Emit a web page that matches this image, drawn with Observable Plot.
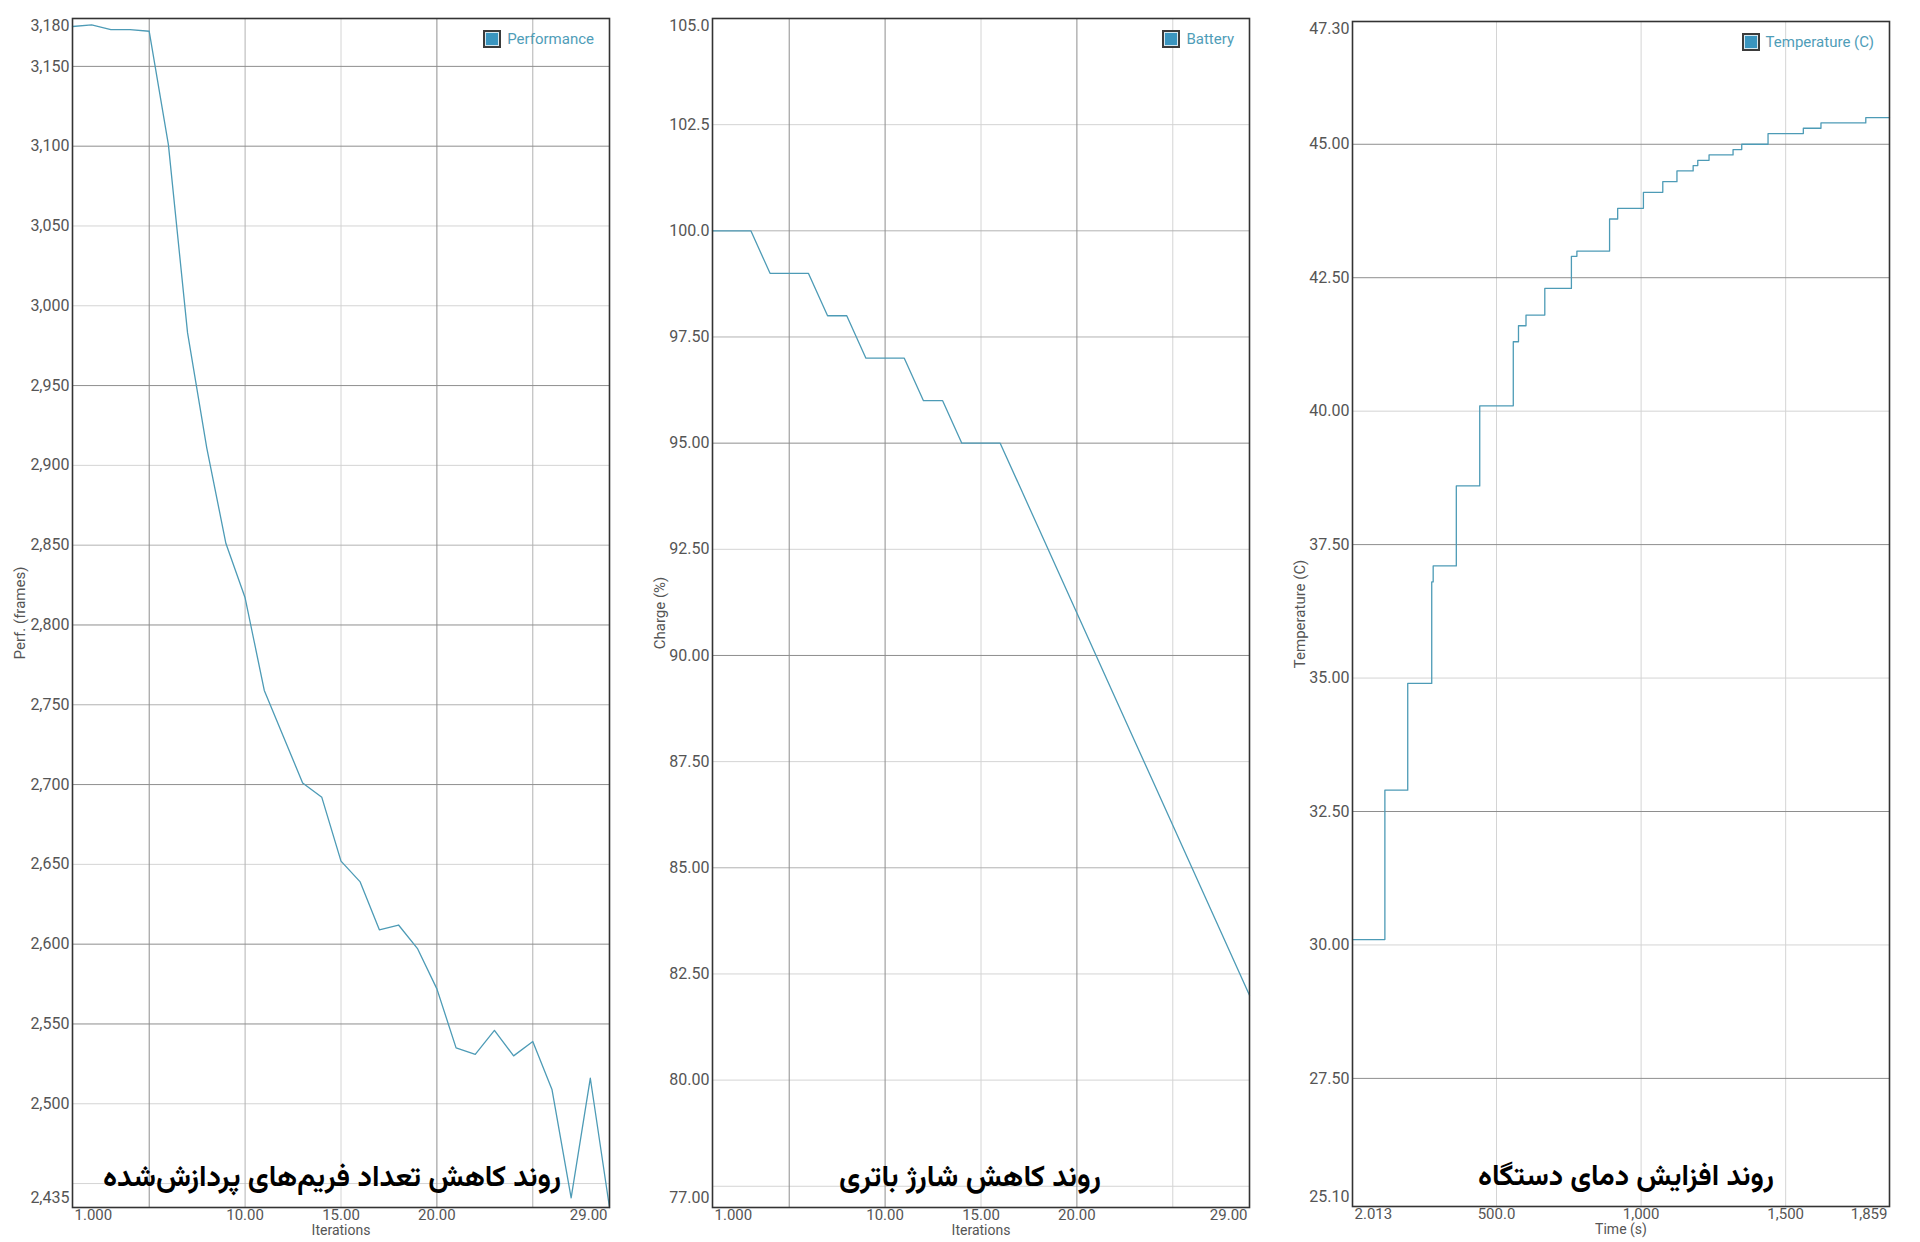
<!DOCTYPE html>
<html><head><meta charset="utf-8">
<script src="https://cdn.jsdelivr.net/npm/d3@7"></script>
<script src="https://cdn.jsdelivr.net/npm/@observablehq/plot@0.6"></script>
<style>
body{margin:0;background:#fff;}
#wrap{position:relative;width:1920px;height:1242px;display:flex;background:#fff;}
.panel{position:relative;width:640px;height:1242px;}
.legend{position:absolute;right:46px;display:flex;align-items:center;font:15px Roboto,sans-serif;color:#4f9db8;}
.sw{width:14px;height:14px;background:#3a95bf;border:2px solid #3b3b3b;margin-right:6px;box-shadow:inset 0 0 0 1px #d5e8f1;}
</style></head>
<body><div id="wrap"></div>
<script>
// ---------- data ----------
const iterations = [1,2,3,4,5,6,7,8,9,10,11,12,13,14,15,16,17,18,19,20,21,22,23,24,25,26,27,28,29];
const performance = [3175,3176,3173,3173,3172,3101,2983,2911,2851,2817,2759,2730,2701,2692,2652,2639,2609,2612,2597,2572,2535,2531,2546,2530,2539,2509,2441,2516,2435];
const battery = [100,100,100,99,99,99,98,98,97,97,97,96,96,95,95,95,94,93,92,91,90,89,88,87,86,85,84,83,82];
const timeS = [2.013,114,193,276,281,361,442,558,576,602,667,759,778,891,919,1008,1075,1124,1180,1196,1235,1318,1348,1439,1561,1622,1777,1859];
const temperature = [30.1,32.9,34.9,36.8,37.1,38.6,40.1,41.3,41.6,41.8,42.3,42.9,43.0,43.6,43.8,44.1,44.3,44.5,44.6,44.7,44.8,44.9,45.0,45.2,45.3,45.4,45.5,45.5];

const perfXTicks = [1,10,15,20,29];
const perfXGrid = [5,10,15,20,25];
const perfYTicks = [3180,3150,3100,3050,3000,2950,2900,2850,2800,2750,2700,2650,2600,2550,2500,2435];
const perfYGrid = [3150,3100,3050,3000,2950,2900,2850,2800,2750,2700,2650,2600,2550,2500,2450];

const battXTicks = [1,10,15,20,29];
const battXGrid = [5,10,15,20,25];
const battYTicks = [105,102.5,100,97.5,95,92.5,90,87.5,85,82.5,80,77];
const battYGrid = [102.5,100,97.5,95,92.5,90,87.5,85,82.5,80,77.5];

const tempXTicks = [2.013,500,1000,1500,1859];
const tempXGrid = [500,1000,1500];
const tempYTicks = [47.3,45,42.5,40,37.5,35,32.5,30,27.5,25.1];
const tempYGrid = [45,42.5,40,37.5,35,32.5,30,27.5];

const titles = ["روند کاهش تعداد فریم‌های پردازش‌شده","روند کاهش شارژ باتری","روند افزایش دمای دستگاه"];
const seriesNames = ["Performance","Battery","Temperature (C)"];
const xLabels = ["Iterations","Iterations","Time (s)"];
const yLabels = ["Perf. (frames)","Charge (%)","Temperature (C)"];

// ---------- drawing ----------
const fmt = d3.format(",.4r");
const TONE = {dark:"#8e8e8e", mid:"#b2b2b2", light:"#d4d4d4"};

function makePanel(o){
  const data = o.xs.map((x,i)=>({x, y:o.ys[i]}));
  const tone = (v, map) => map.dark.includes(v) ? "dark" : map.mid.includes(v) ? "mid" : "light";
  const gridMarks = [];
  for (const t of ["light","mid","dark"]) {
    gridMarks.push(Plot.ruleX(o.xGrid.filter(v=>tone(v,o.xTone)===t), {x:d=>d, stroke:TONE[t], strokeWidth:1}));
    gridMarks.push(Plot.ruleY(o.yGrid.filter(v=>tone(v,o.yTone)===t), {y:d=>d, stroke:TONE[t], strokeWidth:1}));
  }
  const tk = {fontSize:15, fill:"#555", text:d=>fmt(d)};
  const xMid = o.xTicks.slice(1,-1), yMid = o.yTicks.slice(1,-1);
  return Plot.plot({
    width:640, height:1242,
    marginLeft:72, marginRight:31, marginTop:o.mt, marginBottom:1242-o.mt-o.ph,
    x:{domain:o.xDomain, axis:null},
    y:{domain:o.yDomain, axis:null},
    style:{fontFamily:"Roboto, sans-serif", background:"#fff", overflow:"visible"},
    marks:[
      ...gridMarks,
      Plot.line(data, {x:"x", y:"y", stroke:"#4d9bb6", strokeWidth:1.3, curve:o.curve}),
      Plot.frame({stroke:"#333", strokeWidth:1.6}),
      Plot.text(xMid, {x:d=>d, frameAnchor:"bottom", lineAnchor:"top", dy:2, ...tk}),
      Plot.text([o.xTicks[0]], {x:d=>d, frameAnchor:"bottom", lineAnchor:"top", textAnchor:"start", dx:2, dy:2, ...tk}),
      Plot.text([o.xTicks[o.xTicks.length-1]], {x:d=>d, frameAnchor:"bottom", lineAnchor:"top", textAnchor:"end", dx:-2, dy:2, ...tk}),
      Plot.text(yMid, {y:d=>d, frameAnchor:"left", textAnchor:"end", dx:-3, ...tk, fontSize:16}),
      Plot.text([o.yTicks[0]], {y:d=>d, frameAnchor:"left", textAnchor:"end", dx:-3, dy:7, ...tk, fontSize:16}),
      Plot.text([o.yTicks[o.yTicks.length-1]], {y:d=>d, frameAnchor:"left", textAnchor:"end", dx:-3, dy:-10, ...tk, fontSize:16}),
      Plot.text([o.xLabel], {frameAnchor:"bottom", textAnchor:"middle", lineAnchor:"top", dy:18, fontSize:14, fill:"#555"}),
      Plot.text([o.yLabel], {frameAnchor:"left", textAnchor:"middle", rotate:-90, dx:-52, fontSize:15, fill:"#555"}),
      Plot.text([o.title], {frameAnchor:"bottom", textAnchor:"middle", lineAnchor:"bottom", dy:-22, dx:o.titleDx, fontSize:30, fontWeight:"bold", fill:"#000",
        fontFamily:"Vazirmatn, 'Noto Sans Arabic', 'DejaVu Sans', sans-serif", className:"ptitle"})
    ]
  });
}

const configs = [
  {xs:iterations, ys:performance, xDomain:[1,29], yDomain:[2435,3180], xTicks:perfXTicks, xGrid:perfXGrid, yTicks:perfYTicks, yGrid:perfYGrid,
   xTone:{dark:[5,20], mid:[10,25]}, yTone:{dark:[3150,3100,2950,2800,2700,2600,2550], mid:[2750,2850]},
   curve:"linear", mt:18, ph:1189, titleDx:-9, titleW:458, legendTop:30},
  {xs:iterations, ys:battery, xDomain:[1,29], yDomain:[77,105], xTicks:battXTicks, xGrid:battXGrid, yTicks:battYTicks, yGrid:battYGrid,
   xTone:{dark:[5,10,20], mid:[]}, yTone:{dark:[95,90], mid:[100,97.5,85]},
   curve:"linear", mt:18, ph:1189, titleDx:-11, titleW:262, legendTop:30},
  {xs:timeS, ys:temperature, xDomain:[2.013,1859], yDomain:[25.1,47.3], xTicks:tempXTicks, xGrid:tempXGrid, yTicks:tempYTicks, yGrid:tempYGrid,
   xTone:{dark:[], mid:[]}, yTone:{dark:[45,42.5,37.5,32.5,27.5], mid:[]},
   curve:"step-after", mt:21, ph:1185, titleDx:5, titleW:296, legendTop:33}
];

const wrap = document.getElementById("wrap");
configs.forEach((c,i)=>{
  const div = document.createElement("div");
  div.className = "panel";
  const svg = makePanel({...c, xLabel:xLabels[i], yLabel:yLabels[i], title:titles[i]});
  div.appendChild(svg);
  const lg = document.createElement("div");
  lg.className = "legend";
  lg.style.top = c.legendTop + "px";
  lg.innerHTML = `<span class="sw"></span><span>${seriesNames[i]}</span>`;
  div.appendChild(lg);
  wrap.appendChild(div);
  // fit title width to the reference
  const t = svg.querySelector(".ptitle text");
  if (t) {
    const w = t.getComputedTextLength();
    if (w > 0) t.setAttribute("font-size", (30 * c.titleW / w).toFixed(1));
    t.parentNode.removeAttribute("font-size");
  }
});
</script>
</body></html>
